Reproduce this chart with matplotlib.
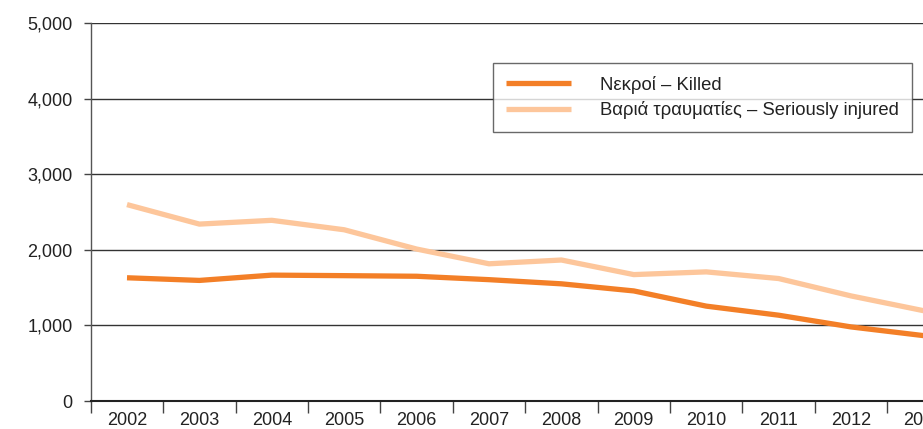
import matplotlib
matplotlib.use("Agg")
import matplotlib.pyplot as plt

years = ["2002", "2003", "2004", "2005", "2006", "2007", "2008", "2009", "2010", "2011", "2012", "2013"]
killed = [1630, 1595, 1665, 1658, 1650, 1605, 1550, 1456, 1255, 1135, 980, 865]
injured = [2598, 2340, 2390, 2265, 2010, 1815, 1865, 1672, 1708, 1620, 1390, 1195]
label_killed = "Νεκροί – Killed"
label_injured = "Βαριά τραυματίες – Seriously injured"
yticks = [0, 1000, 2000, 3000, 4000, 5000]

plt.rcParams['font.family'] = ['Liberation Sans', 'DejaVu Sans']

fig = plt.figure(figsize=(9.23, 4.29), dpi=100)
left = 90.8 / 923
width = (12 * 72.4) / 923
bottom = 1 - 401 / 429
top = 1 - 23 / 429
ax = fig.add_axes([left, bottom, width, top - bottom])

x = list(range(len(years)))
ax.plot(x, killed, color="#F37F27", lw=3.8, label=label_killed, solid_capstyle="butt", zorder=3)
ax.plot(x, injured, color="#FDC69B", lw=3.8, label=label_injured, solid_capstyle="butt", zorder=3)

ax.set_xlim(-0.5, len(years) - 0.5)
ax.set_ylim(0, 5000)
ax.set_yticks(yticks)
ax.set_yticklabels([f"{v:,}" for v in yticks])
ax.yaxis.grid(True, color="#333333", lw=1.0)
ax.set_axisbelow(True)

ax.set_xticks(x)
ax.set_xticklabels(years)
ax.set_xticks([i - 0.5 for i in range(len(years) + 1)], minor=True)
ax.tick_params(axis="x", which="major", length=0, pad=8, labelsize=13, colors="#222222")
ax.tick_params(axis="x", which="minor", length=8.5, width=1, color="#444444", direction="out")
ax.tick_params(axis="y", length=5, width=1, color="#444444", pad=8, labelsize=13, labelcolor="#222222")

ax.spines["right"].set_visible(False)
ax.spines["top"].set_visible(False)
ax.spines["left"].set_color("#555555")
ax.spines["left"].set_linewidth(1.0)
ax.spines["bottom"].set_color("#222222")
ax.spines["bottom"].set_linewidth(1.5)

leg = ax.legend(loc="upper left", bbox_to_anchor=((493 - 90.8) / (12 * 72.4), 1 - (63 - 23) / 378),
                frameon=True, fancybox=False, edgecolor="#444444", fontsize=13.3,
                handlelength=3.5, handletextpad=1.6, borderpad=0.7, labelspacing=0.4,
                borderaxespad=0)
leg.get_frame().set_linewidth(1.0)
for t in leg.get_texts():
    t.set_color("#222222")

fig.savefig("out.png", dpi=100)
